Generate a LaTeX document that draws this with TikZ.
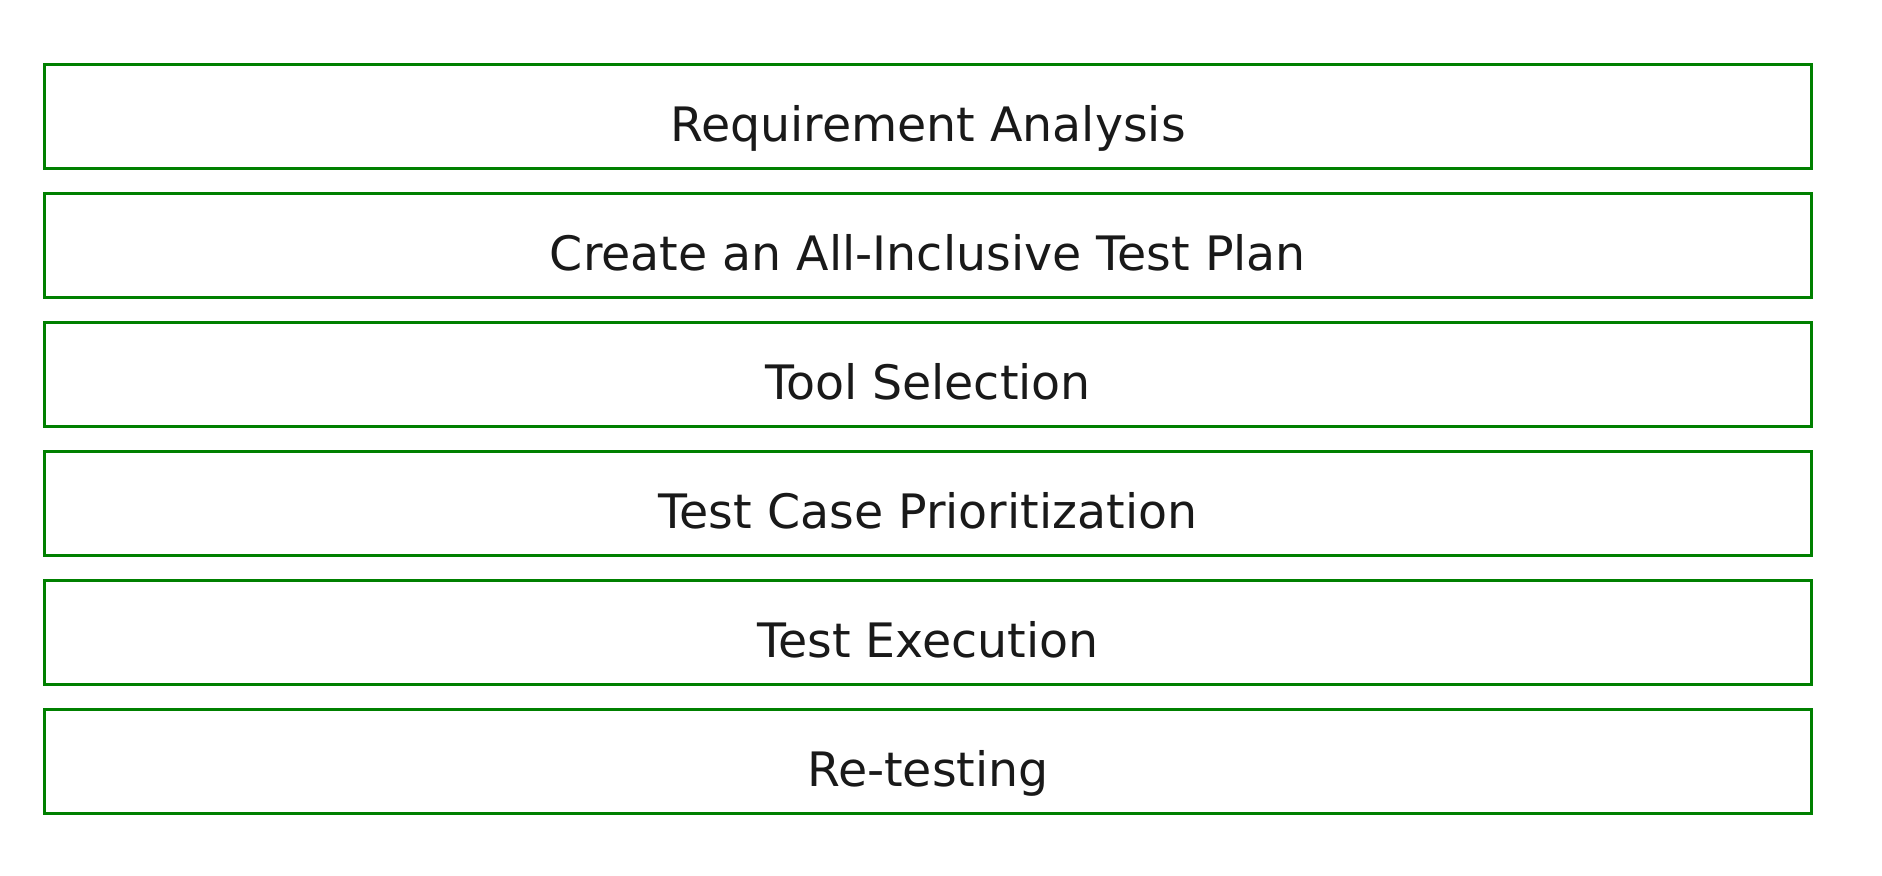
\documentclass[tikz,border=0pt]{standalone}
\usepackage{fontspec}
\setmainfont{DejaVu Sans}
\definecolor{boxgreen}{RGB}{0,128,0}
\begin{document}
\begin{tikzpicture}
	\tikzstyle{Step} = [rectangle, minimum width=17.674cm, minimum height=1.033cm, text height=0.5cm, text depth=0cm, text centered, draw=boxgreen, line width = 0.85pt, text=black!90, font=\fontsize{13.5}{16}\selectfont]
	
	\useasboundingbox (0,0) rectangle (18.82,8.76);
	\node (req) [Step] at (9.28,7.5935) {Requirement Analysis};
	\node (plan) [Step] at (9.28,6.3035) {Create an All-Inclusive Test Plan};
	\node (tool) [Step] at (9.28,5.0135) {Tool Selection};
	\node (prio) [Step] at (9.28,3.7235) {Test Case Prioritization};
	\node (exec) [Step] at (9.28,2.4335) {Test Execution};
	\node (retest) [Step] at (9.28,1.1435) {Re-testing};
\end{tikzpicture}
\end{document}
